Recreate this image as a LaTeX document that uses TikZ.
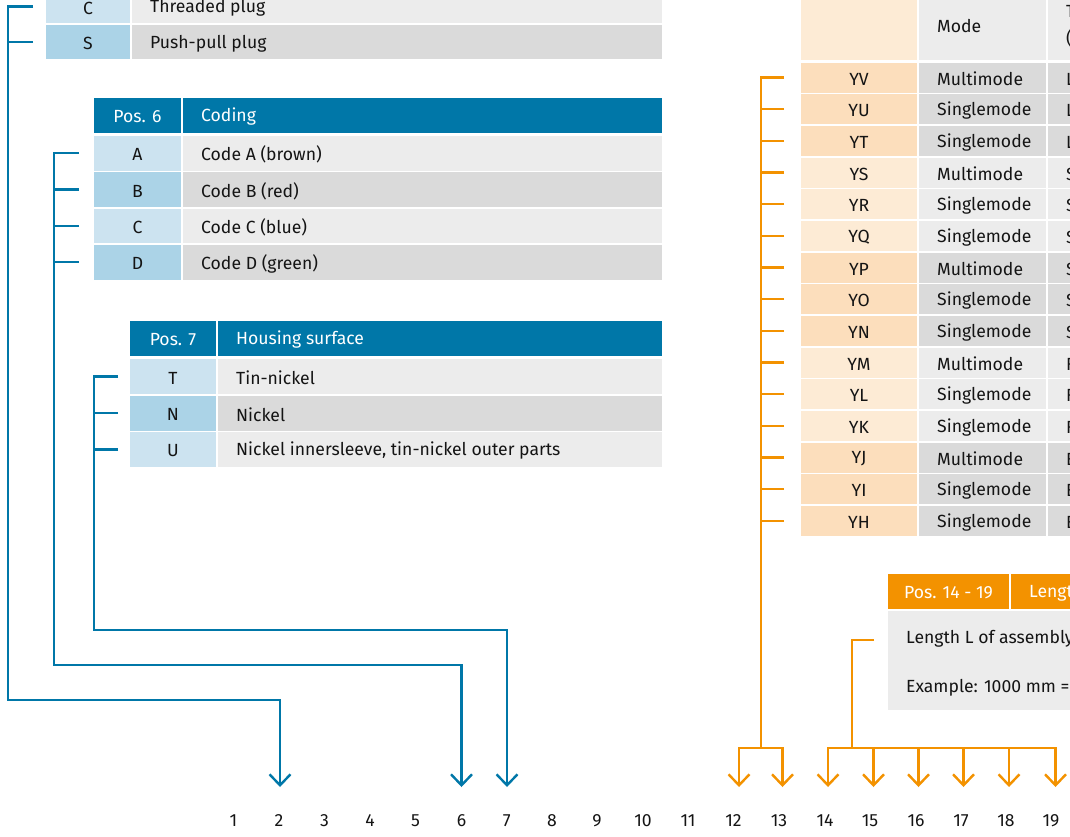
\documentclass[tikz,border=0pt]{standalone}
\usepackage{fontspec}
\setmainfont{Fira Sans}
\usetikzlibrary{arrows.meta}
\definecolor{pblue}{RGB}{0,119,168}
\definecolor{lbA}{RGB}{204,227,240}
\definecolor{lbB}{RGB}{171,211,231}
\definecolor{grA}{RGB}{236,236,236}
\definecolor{grB}{RGB}{218,218,218}
\definecolor{por}{RGB}{243,146,0}
\definecolor{loA}{RGB}{253,235,213}
\definecolor{loB}{RGB}{252,222,188}
\definecolor{txtc}{RGB}{20,20,20}
\newcommand\fsz{\fontsize{17.6}{27}\selectfont}
\tikzset{
  box/.style={anchor=north west, inner sep=0pt, outer sep=0pt, draw=none, text=txtc, font=\fsz},
  lbl/.style={anchor=west, inner sep=0pt, text=txtc, font=\fsz, align=left},
  bl/.style={draw=pblue, line width=2.4pt, line join=miter},
  ol/.style={draw=por, line width=2.4pt, line join=miter},
  tip/.style={-{Straight Barb[length=11pt,width=21pt]}},
  num/.style={inner sep=0pt, text=txtc, font=\fsz},
}
\newcommand\ccell[7]{\node[box, fill=#6, minimum width=#4pt, minimum height=#5pt] (#1) at (#2,#3) {};
  \node[num] (#1t) at ([yshift=-1.5pt]#1.center) {#7};}
\newcommand\tcell[7]{\node[box, fill=#6, minimum width=#4pt, minimum height=#5pt] (#1) at (#2,#3) {};
  \node[lbl] (#1t) at ([xshift=18pt,yshift=-1.5pt]#1.west) {#7};}
\begin{document}
\begin{tikzpicture}[x=1pt,y=-1pt]
\useasboundingbox (0,0) rectangle (1070,836);
\clip (0,0) rectangle (1070,836);
% ---------- top-left table ----------
\ccell{cC}{46}{-10}{84}{33}{lbA}{C}
\tcell{tC}{132}{-10}{530}{33}{grA}{Threaded plug}
\ccell{cS}{46}{25}{84}{34}{lbB}{S}
\tcell{tS}{132}{25}{530}{34}{grB}{Push-pull plug}
% ---------- coding table ----------
\ccell{h6a}{94}{98}{87}{35}{pblue}{\color{white}Pos. 6}
\tcell{h6b}{183}{98}{479}{35}{pblue}{\color{white}Coding}
\ccell{cA}{94}{136}{87}{34.5}{lbA}{A}
\tcell{tA}{183}{136}{479}{34.5}{grA}{Code A (brown)}
\ccell{cB}{94}{172.3}{87}{34.5}{lbB}{B}
\tcell{tB}{183}{172.3}{479}{34.5}{grB}{Code B (red)}
\ccell{cCC}{94}{208.6}{87}{34.5}{lbA}{C}
\tcell{tCC}{183}{208.6}{479}{34.5}{grA}{Code C (blue)}
\ccell{cD}{94}{245}{87}{34.5}{lbB}{D}
\tcell{tD}{183}{245}{479}{34.5}{grB}{Code D (green)}
% ---------- housing table ----------
\ccell{h7a}{130}{321}{86}{35}{pblue}{\color{white}Pos. 7}
\tcell{h7b}{218}{321}{444}{35}{pblue}{\color{white}Housing surface}
\ccell{cT}{130}{359}{86}{35}{lbA}{T}
\tcell{tT}{218}{359}{444}{35}{grA}{Tin-nickel}
\ccell{cN}{130}{396}{86}{34.5}{lbB}{N}
\tcell{tN}{218}{396}{444}{34.5}{grB}{Nickel}
\ccell{cU}{130}{432}{86}{35}{lbA}{U}
\tcell{tU}{218}{432}{444}{35}{grA}{Nickel innersleeve, tin-nickel outer parts}
% ---------- right table ----------
\node[box, fill=loA, minimum width=116pt, minimum height=70pt] (rh1) at (801,-10) {};
\tcell{rh2}{919}{-10}{127}{70}{grA}{Mode}
\tcell{rh3}{1048}{-10}{60}{70}{grA}{T\\(}
\foreach \c/\m/\t/\k [count=\i from 0] in {YV/Multimode/L/B, YU/Singlemode/L/B, YT/Singlemode/L/B,
  YS/Multimode/S/A, YR/Singlemode/S/A, YQ/Singlemode/S/A,
  YP/Multimode/S/B, YO/Singlemode/S/B, YN/Singlemode/S/B,
  YM/Multimode/F/A, YL/Singlemode/F/A, YK/Singlemode/F/A,
  YJ/Multimode/E/B, YI/Singlemode/E/B, YH/Singlemode/E/B}{
  \pgfmathsetmacro\yy{62.5+\i*31.67}
  \ccell{ra\i}{801}{\yy}{116}{30}{lo\k}{\c}
  \tcell{rb\i}{919}{\yy}{127}{30}{gr\k}{\m}
  \tcell{rc\i}{1048}{\yy}{60}{30}{gr\k}{\t}
}
% ---------- length table ----------
\ccell{hLa}{888}{574}{121}{35}{por}{\color{white}Pos. 14 - 19}
\tcell{hLb}{1011}{574}{80}{35}{por}{\color{white}Length}
\node[box, fill=grA, minimum width=200pt, minimum height=99pt] (Lb) at (888,611) {};
\node[lbl] (L1) at (906,639) {Length L of assembly};
\node[lbl] (L2) at (906,688) {Example: 1000 mm =};
% ---------- coordinates ----------
\coordinate (b1) at (8,700);
\coordinate (b6) at (54,665);
\coordinate (b7) at (94,630);
\coordinate (obus) at (761,748);
\coordinate (lbus) at (852,748);
\coordinate (ltk) at (874,640);
\foreach \n/\x in {2/280,6/461.5,7/507,12/739,13/782.5,14/828,15/873.5,16/918.5,17/963.5,18/1009,19/1055.5}
  \coordinate (a\n) at (\x,787);
% ---------- numbers ----------
\foreach \n/\x in {1/233.5,2/279,3/324.5,4/370,5/415.5,6/461.5,7/506.7,8/552,9/597,10/643,11/688,12/733.5,13/779,14/825,15/870,16/916,17/961,18/1006,19/1051}
  \node[num] (n\n) at (\x,820.5) {\n};
% ---------- blue connectors ----------
\draw[bl,tip] ([xshift=-13pt]cC.west) -- (cC.west -| b1) -- (b1) -| (a2);
\draw[bl] ([xshift=-13pt]cS.west) -- (cS.west -| b1);
\draw[bl,tip] ([xshift=-15pt]cA.west) -- (cA.west -| b6) -- (b6) -| (a6);
\foreach \r in {cB,cCC,cD} \draw[bl] ([xshift=-15pt]\r.west) -- (\r.west -| b6);
\draw[bl,tip] ([xshift=-12pt]cT.west) -- (cT.west -| b7) -- (b7) -| (a7);
\foreach \r in {cN,cU} \draw[bl] ([xshift=-12pt]\r.west) -- (\r.west -| b7);
% ---------- orange connectors ----------
\draw[ol] ([xshift=-17pt]ra0.west) -- (ra0.west -| obus) -- (obus);
\foreach \i in {1,...,14} \draw[ol] ([xshift=-17pt]ra\i.west) -- (ra\i.west -| obus);
\draw[ol,tip] (obus) -| (a12);
\draw[ol,tip] (obus) -| (a13);
\draw[ol] (ltk) -- (ltk -| lbus) -- (lbus);
\foreach \n in {14,15,16,17,18,19} \draw[ol,tip] (lbus) -| (a\n);
\end{tikzpicture}
\end{document}
